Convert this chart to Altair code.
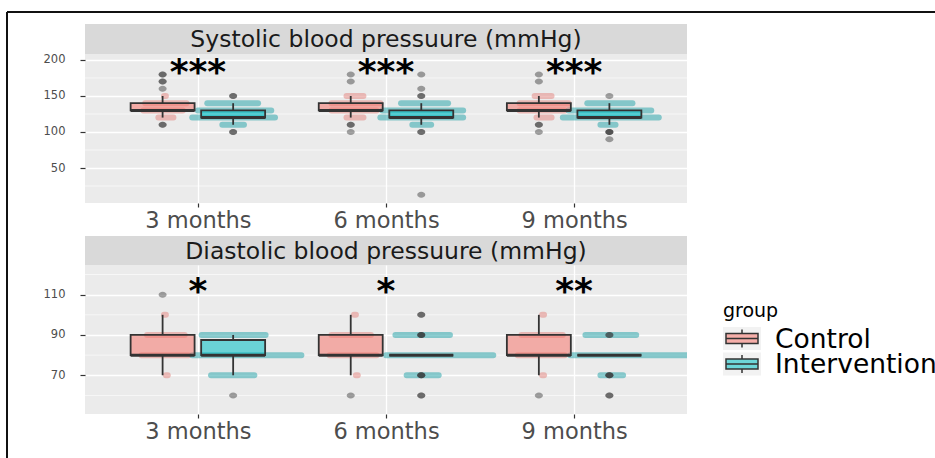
import json
import altair as alt
import pandas as pd

# ---------------- data ----------------
times = ["3 months", "6 months", "9 months"]
groups = ["Control", "Intervention"]
measures = ["Systolic blood pressuure (mmHg)", "Diastolic blood pressuure (mmHg)"]
group_colors = ["#F8766D", "#00BFC4"]

# box statistics, order: 3m Control, 3m Intervention, 6m Control, 6m Intervention, 9m Control, 9m Intervention
sys_q1 = [130, 120, 130, 120, 130, 120]
sys_med = [130, 120, 130, 120, 130, 120]
sys_q3 = [140, 130, 140, 130, 140, 130]
sys_lo = [120, 110, 120, 110, 120, 110]
sys_hi = [150, 140, 150, 140, 150, 140]
sys_outliers = [
    [180, 180, 170, 170, 160, 110, 110],
    [150, 150, 100, 100],
    [180, 170, 110, 110, 100],
    [180, 160, 150, 150, 100, 100, 13],
    [180, 170, 110, 110, 100],
    [150, 100, 100, 100, 90],
]

dia_q1 = [80, 80, 80, 80, 80, 80]
dia_med = [80, 80, 80, 80, 80, 80]
dia_q3 = [90, 87.5, 90, 80, 90, 80]
dia_lo = [70, 70, 70, 80, 70, 80]
dia_hi = [100, 90, 100, 80, 100, 80]
dia_outliers = [
    [110],
    [60],
    [60],
    [100, 100, 90, 90, 90, 70, 70, 70, 60, 60],
    [60],
    [90, 90, 70, 70, 70, 60, 60],
]

# jittered raw points, seen as horizontal smears: (cell index, value, spread from, spread to) in category units
sys_jitter = [
    (0, 150, -0.18, -0.17), (0, 140, -0.28, -0.06), (0, 130, -0.29, -0.08), (0, 120, -0.21, -0.13),
    (1, 140, 0.05, 0.32), (1, 130, 0.0, 0.39), (1, 120, -0.03, 0.41), (1, 110, 0.13, 0.245),
    (2, 150, -0.21, -0.12), (2, 140, -0.29, -0.03), (2, 130, -0.29, -0.05), (2, 120, -0.21, -0.12),
    (3, 140, 0.08, 0.33), (3, 130, -0.02, 0.41), (3, 120, -0.03, 0.41), (3, 110, 0.14, 0.24),
    (4, 150, -0.21, -0.12), (4, 140, -0.29, -0.03), (4, 130, -0.29, -0.05), (4, 120, -0.2, -0.12),
    (5, 140, 0.07, 0.31), (5, 130, -0.03, 0.41), (5, 120, -0.06, 0.45), (5, 110, 0.14, 0.22),
]
dia_jitter = [
    (0, 100, -0.18, -0.17), (0, 90, -0.27, -0.07), (0, 80, -0.3, -0.05), (0, 70, -0.17, -0.16),
    (1, 90, 0.02, 0.36), (1, 80, -0.03, 0.55), (1, 70, 0.07, 0.3),
    (2, 100, -0.17, -0.16), (2, 90, -0.29, -0.08), (2, 80, -0.3, -0.05), (2, 70, -0.16, -0.15),
    (3, 90, 0.05, 0.34), (3, 80, 0.0, 0.57), (3, 70, 0.11, 0.28),
    (4, 100, -0.17, -0.16), (4, 90, -0.28, -0.06), (4, 80, -0.3, -0.05), (4, 70, -0.17, -0.16),
    (5, 90, 0.06, 0.33), (5, 80, -0.02, 0.62), (5, 70, 0.14, 0.26),
]

sys_sig = ["***", "***", "***"]
dia_sig = ["*", "*", "**"]
sig_level = [200, 118]

sys_major = [50, 100, 150, 200]
sys_minor = [25, 75, 125, 175]
dia_major = [70, 90, 110]
dia_minor = [60, 80, 100, 120]
sys_domain = [1.4, 208.3]
dia_domain = [50.8, 124.7]

# ---------------- styling ----------------
FONT = "DejaVu Sans"
PW, PH = 602, 149
DARK = "#333333"
ELLIPSE = "M-1,0A1,0.75,0,1,1,1,0A1,0.75,0,1,1,-1,0Z"
CENTER = "datum.time + (datum.gi == 0 ? -0.1875 : 0.1875)"


def cell(i):
    return i // 2 + 1, i % 2


def box_df(q1, med, q3, lo, hi):
    rows = []
    for i in range(6):
        t, g = cell(i)
        rows.append(dict(time=t, gi=g, group=groups[g], q1=q1[i], med=med[i], q3=q3[i], lo=lo[i], hi=hi[i]))
    return pd.DataFrame(rows)


def out_df(outs):
    rows = []
    for i, vals in enumerate(outs):
        t, g = cell(i)
        for v in vals:
            rows.append(dict(time=t, gi=g, group=groups[g], value=v))
    return pd.DataFrame(rows)


def jit_df(jit):
    rows = []
    for i, v, a, b in jit:
        t, g = cell(i)
        rows.append(dict(time=t, gi=g, group=groups[g], value=v, a=a, b=b))
    return pd.DataFrame(rows)


label_expr = json.dumps(times) + "[datum.value - 1]"
col = alt.Scale(domain=groups, range=group_colors)


def panel(bdf, odf, jdf, sig, sig_y, minor, major, domain):
    xs = alt.Scale(domain=[0.4, 3.6], nice=False, zero=False)
    ys = alt.Scale(domain=domain, nice=False, zero=False)
    xaxis = alt.Axis(values=[1, 2, 3], labelExpr=label_expr, title=None, grid=True,
                     gridColor="white", gridWidth=1.3, domain=False, tickColor=DARK,
                     tickSize=4, tickWidth=1.2, labelFontSize=22.5, labelColor="#4D4D4D",
                     labelPadding=2, labelFont=FONT)
    yaxis = alt.Axis(values=major, title=None, grid=True, gridColor="white", gridWidth=1.3,
                     domain=False, tickColor=DARK, tickSize=5, tickWidth=1.2,
                     labelFontSize=11.5, labelColor="#4D4D4D", labelPadding=15, labelFont=FONT)

    def X(f):
        return alt.X(f, type="quantitative", scale=xs, axis=xaxis)

    def Y(f):
        return alt.Y(f, type="quantitative", scale=ys, axis=yaxis)

    minor_l = alt.Chart(pd.DataFrame({"v": minor})).mark_rule(
        color="white", strokeWidth=0.6).encode(y=Y("v"))

    jit = alt.Chart(jdf).transform_calculate(
        x1="datum.time + datum.a", x2="datum.time + datum.b"
    ).mark_rule(strokeWidth=6, strokeCap="round", opacity=0.6, clip=True).encode(
        x=X("x1"), x2="x2:Q", y=Y("value"),
        color=alt.Color("group:N", scale=alt.Scale(domain=groups, range=["#E4928D", "#3FAEB2"]),
                        legend=None))

    base = alt.Chart(bdf).transform_calculate(
        c=CENTER, l=CENTER + " - 0.17", r=CENTER + " + 0.17")

    wl = base.mark_rule(color=DARK, strokeWidth=1.8).encode(x=X("c"), y=Y("lo"), y2="q1:Q")
    wh = base.mark_rule(color=DARK, strokeWidth=1.8).encode(x=X("c"), y=Y("q3"), y2="hi:Q")
    box = base.mark_rect(fillOpacity=0.55, stroke=DARK, strokeWidth=1.8).encode(
        x=X("l"), x2="r:Q", y=Y("q1"), y2="q3:Q",
        fill=alt.Fill("group:N", scale=col, legend=None))
    med = base.mark_rule(color=DARK, strokeWidth=3).encode(x=X("l"), x2="r:Q", y=Y("med"))

    outl = alt.Chart(odf).transform_calculate(c=CENTER).mark_point(
        shape=ELLIPSE, filled=True, size=64, color=DARK, opacity=0.45).encode(
        x=X("c"), y=Y("value"))

    sdf = pd.DataFrame({"time": [1, 2, 3], "label": sig, "y": [sig_y] * 3})
    sigl = alt.Chart(sdf).mark_text(fontSize=36, fontWeight="bold", baseline="top", dy=-4,
                                    font=FONT, color="black").encode(
        x=X("time"), y=Y("y"), text="label:N")

    return alt.layer(minor_l, jit, wl, wh, box, med, outl, sigl).properties(
        width=PW, height=PH, view=alt.ViewBackground(fill="#EBEBEB", stroke=None))


# strip 1 (with the outer frame lines of the figure)
s1 = alt.Chart(pd.DataFrame({"label": [measures[0]]}))
strip1 = alt.layer(
    s1.mark_text(fontSize=23.5, font=FONT, color="#1A1A1A", baseline="middle").encode(
        text="label:N", x=alt.value(PW / 2), y=alt.value(16)),
    s1.mark_rule(color="#111111", strokeWidth=2).encode(
        x=alt.value(-78), x2=alt.value(900), y=alt.value(-12)),
    s1.mark_rule(color="#111111", strokeWidth=2).encode(
        x=alt.value(-78), y=alt.value(-12), y2=alt.value(440)),
).properties(width=PW, height=30, view=alt.ViewBackground(fill="#D9D9D9", stroke=None))

# strip 2 (includes the gap under panel 1) + legend of the figure
GAP = 33
s2 = alt.Chart(pd.DataFrame({"label": [measures[1]]}))
ldf = pd.DataFrame({"group": groups})
ly = alt.Y("group:N", scale=alt.Scale(type="point", domain=groups, range=[135.5, 161], padding=0),
           axis=None)
KEY = "M-0.95,-0.575H0.95V0.575H-0.95Z"
GLYPH = "M-0.8,-0.25H0.8V0.25H-0.8Z M-0.8,0H0.8 M0,-0.25V-0.45 M0,0.25V0.45"
lg = alt.Chart(ldf)
strip2 = alt.layer(
    s2.mark_rect(color="#D9D9D9").encode(
        x=alt.value(0), x2=alt.value(PW), y=alt.value(GAP), y2=alt.value(GAP + 29)),
    s2.mark_text(fontSize=23.5, font=FONT, color="#1A1A1A", baseline="middle").encode(
        text="label:N", x=alt.value(PW / 2), y=alt.value(GAP + 15.5)),
    lg.mark_point(shape=KEY, filled=True, size=1600, color="#F2F2F2", opacity=1).encode(
        x=alt.value(657), y=ly),
    lg.mark_point(shape=GLYPH, filled=True, size=1600, stroke=DARK, strokeWidth=1.5,
                  fillOpacity=0.55, strokeOpacity=1).encode(
        x=alt.value(657), y=ly, fill=alt.Fill("group:N", scale=col, legend=None)),
    lg.mark_text(fontSize=26.5, font=FONT, color="black", align="left", baseline="alphabetic",
                 dy=9).encode(x=alt.value(690), y=ly, text="group:N"),
    alt.Chart(pd.DataFrame({"t": ["group"]})).mark_text(
        fontSize=19, font=FONT, color="black", align="left", baseline="alphabetic").encode(
        x=alt.value(638), y=alt.value(113.5), text="t:N"),
).properties(width=PW, height=GAP + 29, view=alt.ViewBackground(fill=None, stroke=None))

p1 = panel(box_df(sys_q1, sys_med, sys_q3, sys_lo, sys_hi), out_df(sys_outliers),
           jit_df(sys_jitter), sys_sig, sig_level[0], sys_minor, sys_major, sys_domain)
p2 = panel(box_df(dia_q1, dia_med, dia_q3, dia_lo, dia_hi), out_df(dia_outliers),
           jit_df(dia_jitter), dia_sig, sig_level[1], dia_minor, dia_major, dia_domain)

# layout: the plot column is 602 wide (its height counts as 0 with autosize none);
# padding brings the page to 935 x 458
chart = alt.vconcat(strip1, p1, strip2, p2, spacing=0, bounds="flush").resolve_scale(
    y="independent", x="independent", color="independent", fill="independent"
).properties(
    autosize=alt.AutoSizeParams(type="none"),
    padding={"left": 85, "top": 24, "right": 248, "bottom": 434},
    background="white",
).configure_view(stroke=None)

chart.save("out.html", embed_options={"renderer": "svg", "actions": False})
